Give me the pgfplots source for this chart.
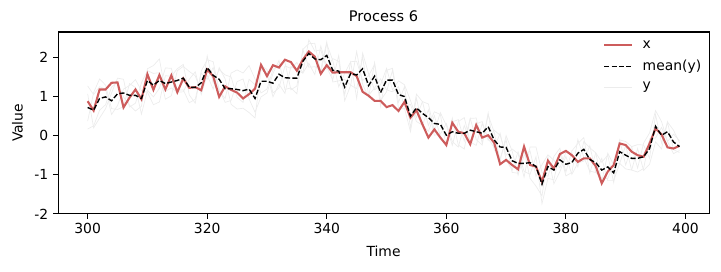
\documentclass[border=0pt]{standalone}
\usepackage{pgfplots}
\pgfplotsset{compat=1.18}
\usepackage{pgfplotstable}
\usepackage{fontspec}
\setmainfont{DejaVu Sans}
\definecolor{indred}{RGB}{205,92,92}
\definecolor{ylight}{RGB}{236,236,236}
\pgfplotstableread{
t x m g1 g2 g3 g4
300 0.88 0.72 1.27 0.17 1.07 0.37
301 0.64 0.65 1.05 0.25 0.20 1.10
302 1.18 0.95 1.25 0.65 0.45 1.45
303 1.18 0.99 1.19 0.79 0.69 1.29
304 1.35 0.89 0.54 1.24 1.09 0.69
305 1.36 1.07 0.77 1.37 1.47 0.67
306 0.72 1.09 1.19 0.99 1.44 0.74
307 0.97 1.03 1.28 0.78 0.73 1.33
308 1.18 1.03 1.43 0.63 0.83 1.23
309 0.93 0.95 1.15 0.75 1.35 0.55
310 1.57 1.41 1.11 1.71 1.66 1.16
311 1.17 1.29 0.79 1.79 1.59 0.99
312 1.55 1.41 0.86 1.96 1.61 1.21
313 1.18 1.33 1.53 1.13 0.93 1.73
314 1.54 1.37 1.52 1.22 1.02 1.72
315 1.11 1.41 1.71 1.11 1.66 1.16
316 1.46 1.47 1.82 1.12 1.77 1.17
317 1.22 1.24 1.04 1.44 1.64 0.84
318 1.24 1.23 0.83 1.63 1.53 0.93
319 1.16 1.35 1.65 1.05 1.10 1.60
320 1.69 1.74 1.94 1.54 2.04 1.44
321 1.52 1.54 1.89 1.19 1.34 1.74
322 0.99 1.44 1.14 1.74 1.69 1.19
323 1.26 1.20 0.95 1.45 1.55 0.85
324 1.17 1.20 1.60 0.80 1.50 0.90
325 1.10 1.18 1.68 0.68 0.98 1.38
326 0.95 1.15 1.60 0.70 0.85 1.45
327 1.06 1.19 1.79 0.59 1.44 0.94
328 1.20 0.95 1.45 0.45 1.30 0.60
329 1.81 1.39 1.09 1.69 1.79 0.99
330 1.52 1.39 1.19 1.59 1.69 1.09
331 1.80 1.34 1.69 0.99 1.09 1.59
332 1.74 1.57 1.82 1.32 1.22 1.92
333 1.94 1.48 1.88 1.08 1.78 1.18
334 1.88 1.47 1.17 1.77 1.72 1.22
335 1.66 1.47 1.27 1.67 1.87 1.07
336 1.94 1.90 2.20 1.60 1.60 2.20
337 2.15 2.10 2.35 1.85 2.45 1.75
338 2.02 1.96 2.36 1.56 2.16 1.76
339 1.58 1.94 1.59 2.29 2.19 1.69
340 1.80 2.05 2.35 1.75 1.70 2.40
341 1.61 1.67 1.92 1.42 1.97 1.37
342 1.62 1.65 1.25 2.05 1.90 1.40
343 1.62 1.24 1.59 0.89 1.04 1.44
344 1.62 1.59 1.89 1.29 1.89 1.29
345 1.52 1.55 0.95 2.15 1.90 1.20
346 1.12 1.71 2.11 1.31 1.41 2.01
347 1.02 1.28 1.58 0.98 1.53 1.03
348 0.89 1.52 1.17 1.87 1.82 1.22
349 0.89 1.10 1.30 0.90 0.75 1.45
350 0.73 1.42 1.72 1.12 1.67 1.17
351 0.78 1.42 1.17 1.67 1.72 1.12
352 0.63 1.05 1.40 0.70 0.85 1.25
353 0.86 1.00 1.30 0.70 1.25 0.75
354 0.46 0.50 0.90 0.10 0.20 0.80
355 0.65 0.71 0.46 0.96 1.06 0.36
356 0.29 0.57 0.87 0.27 0.87 0.27
357 -0.05 0.46 0.81 0.11 0.26 0.66
358 0.16 0.31 0.11 0.51 0.61 0.01
359 -0.05 0.29 0.59 -0.01 0.54 0.04
360 -0.24 0.01 0.26 -0.24 -0.29 0.31
361 0.33 0.10 -0.25 0.45 0.35 -0.15
362 0.10 0.06 0.36 -0.24 0.41 -0.29
363 0.06 0.06 0.46 -0.34 -0.14 0.26
364 -0.22 0.14 -0.16 0.44 0.44 -0.16
365 0.27 0.10 0.30 -0.10 0.45 -0.25
366 -0.05 0.06 0.36 -0.24 -0.19 0.31
367 0.01 0.23 -0.12 0.58 0.53 -0.07
368 -0.18 -0.11 0.14 -0.36 0.09 -0.31
369 -0.73 -0.29 0.01 -0.59 -0.64 0.06
370 -0.62 -0.30 -0.50 -0.10 0.00 -0.60
371 -0.75 -0.64 -0.34 -0.94 -0.39 -0.89
372 -0.86 -0.71 -0.46 -0.96 -1.01 -0.41
373 -0.28 -0.71 -1.06 -0.36 -0.51 -0.91
374 -0.75 -0.69 -0.29 -1.09 -0.39 -0.99
375 -0.79 -0.79 -0.29 -1.29 -1.04 -0.54
376 -1.18 -1.24 -0.94 -1.54 -0.74 -1.74
377 -0.64 -0.79 -1.04 -0.54 -0.49 -1.09
378 -0.84 -0.88 -0.53 -1.23 -0.63 -1.13
379 -0.47 -0.62 -0.32 -0.92 -0.82 -0.42
380 -0.39 -0.73 -0.93 -0.53 -0.43 -1.03
381 -0.50 -0.69 -0.39 -0.99 -0.44 -0.94
382 -0.67 -0.45 -0.20 -0.70 -0.80 -0.10
383 -0.58 -0.35 -0.05 -0.65 -0.15 -0.55
384 -0.58 -0.61 -0.96 -0.26 -0.31 -0.91
385 -0.78 -0.69 -0.44 -0.94 -0.44 -0.94
386 -1.22 -0.88 -0.68 -1.08 -1.18 -0.58
387 -0.92 -0.80 -0.50 -1.10 -0.45 -1.15
388 -0.75 -0.95 -1.20 -0.70 -0.75 -1.15
389 -0.20 -0.41 -0.11 -0.71 -0.11 -0.71
390 -0.24 -0.50 -0.15 -0.85 -0.75 -0.25
391 -0.41 -0.58 -0.28 -0.88 -0.28 -0.88
392 -0.50 -0.58 -0.83 -0.33 -0.23 -0.93
393 -0.54 -0.54 -0.19 -0.89 -0.24 -0.84
394 -0.20 -0.33 0.07 -0.73 -0.58 -0.08
395 0.18 0.24 0.64 -0.16 0.54 -0.06
396 0.03 0.01 0.36 -0.34 -0.19 0.21
397 -0.30 0.10 -0.15 0.35 0.35 -0.15
398 -0.33 -0.16 0.04 -0.36 0.14 -0.46
399 -0.26 -0.28 -0.13 -0.43 -0.18 -0.38
}\datatable
\begin{document}
\begin{tikzpicture}
\begin{axis}[
  scale only axis,
  width=468.7pt, height=131pt,
  xmin=295.05, xmax=403.95,
  ymin=-2, ymax=2.65,
  xtick={300,320,340,360,380,400},
  ytick={-2,-1,0,1,2},
  yticklabels={-2,-1,0,1,2},
  tick align=outside,
  tick pos=left,
  major tick length=3.5pt,
  axis line style={line width=0.8pt},
  every tick/.style={black, line width=0.8pt},
  /pgf/number format/assume math mode=true,
  ticklabel style={font=\fontsize{10}{12}\selectfont},
  xlabel={Time}, ylabel={Value},
  label style={font=\fontsize{10}{12}\selectfont},
  title={Process 6},
  title style={font=\fontsize{10.5}{12}\selectfont, yshift=-2pt},
  xlabel style={yshift=-1.5pt},
  ylabel style={yshift=1.5pt},
  legend style={draw=none, fill=none, at={(0.999,0.985)}, anchor=north east,
    font=\fontsize{10}{12}\selectfont, row sep=3pt,
    /tikz/every odd column/.append style={column sep=5pt}},
  legend cell align=left,
  legend image code/.code={\draw[#1] (0pt,0pt) -- (20pt,0pt);},
]
\addlegendimage{indred, line width=1.5pt}
\addlegendentry{x}
\addlegendimage{black, line width=1pt, dash pattern=on 3.7pt off 1.6pt}
\addlegendentry{mean(y)}
\addlegendimage{ylight, line width=0.5pt}
\addlegendentry{y}
\addplot[ylight, line width=0.5pt, forget plot] table[x=t, y=g1] {\datatable};
\addplot[ylight, line width=0.5pt, forget plot] table[x=t, y=g2] {\datatable};
\addplot[ylight, line width=0.5pt, forget plot] table[x=t, y=g3] {\datatable};
\addplot[ylight, line width=0.5pt, forget plot] table[x=t, y=g4] {\datatable};
\addplot[indred, line width=1.5pt, forget plot] table[x=t, y=x] {\datatable};
\addplot[black, line width=1pt, dash pattern=on 3.7pt off 1.6pt, forget plot] table[x=t, y=m] {\datatable};
\end{axis}
\pgfresetboundingbox
\path (current axis.south west) ++(-41.8pt,-41.8pt) rectangle ++(519.1pt,195.8pt);
\end{tikzpicture}
\end{document}
